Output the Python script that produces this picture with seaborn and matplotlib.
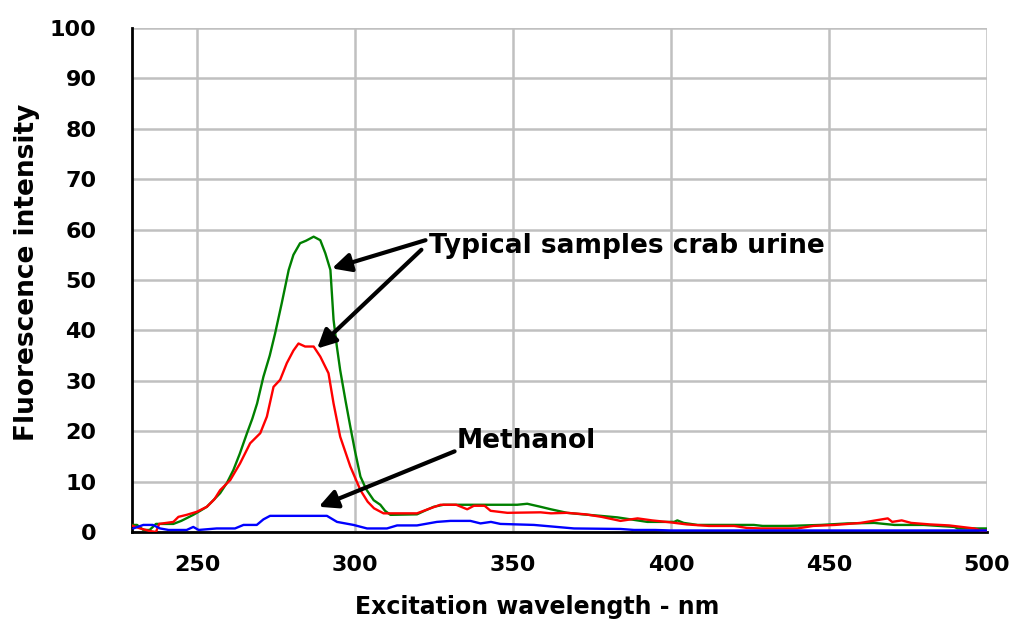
import matplotlib
matplotlib.use("Agg")
import matplotlib.pyplot as plt
import pandas as pd
import seaborn as sns

# Excitation spectra
green_nm = [229.5, 231, 233, 235, 237, 242.5, 245, 248.8, 251, 253.1, 255, 257.3, 259.5, 261.5,
            263.5, 265.8, 267.5, 269, 271, 273, 274.7, 276.8, 279, 280.5, 282.6, 284.5, 286.9,
            289, 290.6, 292.2, 293.2, 294.2, 295.3, 297, 298.5, 300, 301.7, 303.5, 305.9, 308,
            309.5, 311.2, 319.6, 322, 324.9, 328, 351.3, 354.5, 358.7, 362, 367.1, 372, 377.7,
            383, 388.3, 392.5, 401, 402, 404, 408.4, 426.2, 429, 437, 447.5, 455.9, 464.3,
            470.7, 480, 489.7, 490.7, 500]
green_int = [1.4, 1.4, 0.4, 0.4, 1.6, 1.6, 2.2, 3.4, 4.2, 5.0, 6.2, 7.7, 9.8, 12.3,
             15.5, 19.6, 22.5, 25.5, 30.8, 35, 39.4, 45.4, 52.0, 55, 57.3, 57.8, 58.6,
             57.9, 55.3, 52, 42.1, 37, 32.1, 26, 20.9, 16, 11, 8.5, 6.3, 5.4,
             4.2, 3.4, 3.5, 4.2, 5.0, 5.4, 5.4, 5.6, 5.0, 4.5, 3.8, 3.5, 3.2,
             2.9, 2.4, 2.0, 2.0, 2.3, 1.8, 1.4, 1.4, 1.2, 1.2, 1.4, 1.7, 1.8,
             1.4, 1.4, 1.0, 0.7, 0.7]

red_nm = [228.8, 232, 235, 237, 238, 242.5, 244.1, 246.7, 249.9, 253.1, 255.5, 257.3, 260.5,
          263.6, 266.8, 270, 272.1, 274.2, 276.3, 278.4, 280.5, 282.1, 284.2, 286.9, 289,
          291.6, 293.2, 295.3, 298.5, 301.7, 304, 306, 309, 319.6, 323, 327, 332, 335.5,
          337.6, 341, 342.9, 348.2, 358.7, 362, 367, 373, 378, 384, 389.4, 394, 400, 405,
          412, 420, 424, 428.4, 440, 445, 452, 460, 468.6, 470, 473, 476, 482, 488, 492,
          496, 498, 500]
red_int = [1.4, 0.7, 0.2, 0.0, 1.6, 2.0, 3.0, 3.4, 4.0, 5.0, 6.5, 8.3, 10.3,
           13.6, 17.6, 19.6, 22.9, 28.8, 30.2, 33.5, 36, 37.4, 36.8, 36.8, 34.8,
           31.5, 25.5, 18.9, 13, 8.3, 6, 4.7, 3.7, 3.7, 4.5, 5.4, 5.4, 4.5,
           5.2, 5.2, 4.2, 3.8, 3.9, 3.7, 3.8, 3.5, 3.0, 2.2, 2.7, 2.3, 1.9, 1.5,
           1.2, 1.2, 0.8, 0.7, 0.7, 1.2, 1.4, 1.8, 2.7, 2.0, 2.3, 1.8, 1.5, 1.3, 1.0,
           0.7, 0.3, 0.3]

blue_nm = [229.8, 233, 236, 238.3, 241, 246.7, 248.8, 250.5, 256.2, 262, 264.7, 268.9, 271,
           273.1, 278.4, 291.1, 294.3, 299.5, 303.8, 310.1, 313.3, 319.6, 325.9, 330.2,
           336.5, 339.7, 343, 346, 356.6, 369.3, 384, 388.3, 395, 400, 420, 450, 480, 500]
blue_int = [0.7, 1.4, 1.4, 0.7, 0.4, 0.4, 1.0, 0.4, 0.7, 0.7, 1.4, 1.4, 2.5,
            3.2, 3.2, 3.2, 2.0, 1.4, 0.7, 0.7, 1.3, 1.3, 2.0, 2.2,
            2.2, 1.7, 2.0, 1.6, 1.4, 0.7, 0.6, 0.4, 0.4, 0.3, 0.3, 0.3, 0.3, 0.3]

x_ticks = [250, 300, 350, 400, 450, 500]
y_ticks = [0, 10, 20, 30, 40, 50, 60, 70, 80, 90, 100]

sns.set_style("white")
plt.rcParams["font.family"] = ["DejaVu Sans"]
plt.rcParams["font.weight"] = "bold"
plt.rcParams["text.color"] = "black"
plt.rcParams["axes.labelcolor"] = "black"

fig = plt.figure(figsize=(10.12, 6.23), dpi=100)
ax = fig.add_axes([0.1304, 0.1461, 0.8449, 0.8089])

series = [
    (green_nm, green_int, "#008000"),
    (red_nm, red_int, "#ff0000"),
    (blue_nm, blue_int, "#0000ff"),
]
for nm, inten, color in series:
    df = pd.DataFrame({"nm": nm, "intensity": inten})
    sns.lineplot(data=df, x="nm", y="intensity", color=color, linewidth=1.7,
                 ax=ax, zorder=3)

ax.set_xlim(229.4, 500)
ax.set_ylim(0, 100)
ax.set_xticks(x_ticks)
ax.set_yticks(y_ticks)
ax.grid(True, color="#c0c0c0", linewidth=1.8)
ax.set_axisbelow(True)
for side in ["top", "right"]:
    ax.spines[side].set_visible(False)
for side in ["left", "bottom"]:
    ax.spines[side].set_color("black")
    ax.spines[side].set_linewidth(2.0)
ax.tick_params(axis="both", direction="out", length=6.5, width=1.5, colors="black",
               labelsize=16)
ax.tick_params(axis="y", pad=19)
ax.tick_params(axis="x", pad=10)
for lbl in ax.get_xticklabels() + ax.get_yticklabels():
    lbl.set_fontweight("bold")

ax.set_xlabel("Excitation wavelength - nm", fontsize=17, fontweight="bold")
ax.set_ylabel("Fluorescence intensity", fontsize=19, fontweight="bold")
ax.xaxis.label.set_va("center")
ax.yaxis.label.set_va("center")
ax.xaxis.set_label_coords(0.474, -0.149)
ax.yaxis.set_label_coords(-0.123, 0.515)

arrow = dict(arrowstyle="-|>", color="black", lw=3.0, mutation_scale=28,
             shrinkA=0, shrinkB=0)
ax.annotate("", xy=(292.7, 52.3), xytext=(322.3, 57.9), arrowprops=arrow)
ax.annotate("", xy=(288.0, 36.4), xytext=(321.0, 56.0), arrowprops=arrow)
ax.annotate("", xy=(288.5, 5.0), xytext=(331.5, 16.0), arrowprops=arrow)
ax.text(323.5, 56.8, "Typical samples crab urine", fontsize=19, fontweight="bold",
        va="center", ha="left")
ax.text(332.0, 18.0, "Methanol", fontsize=19, fontweight="bold",
        va="center", ha="left")

fig.savefig("out.png", dpi=100)
